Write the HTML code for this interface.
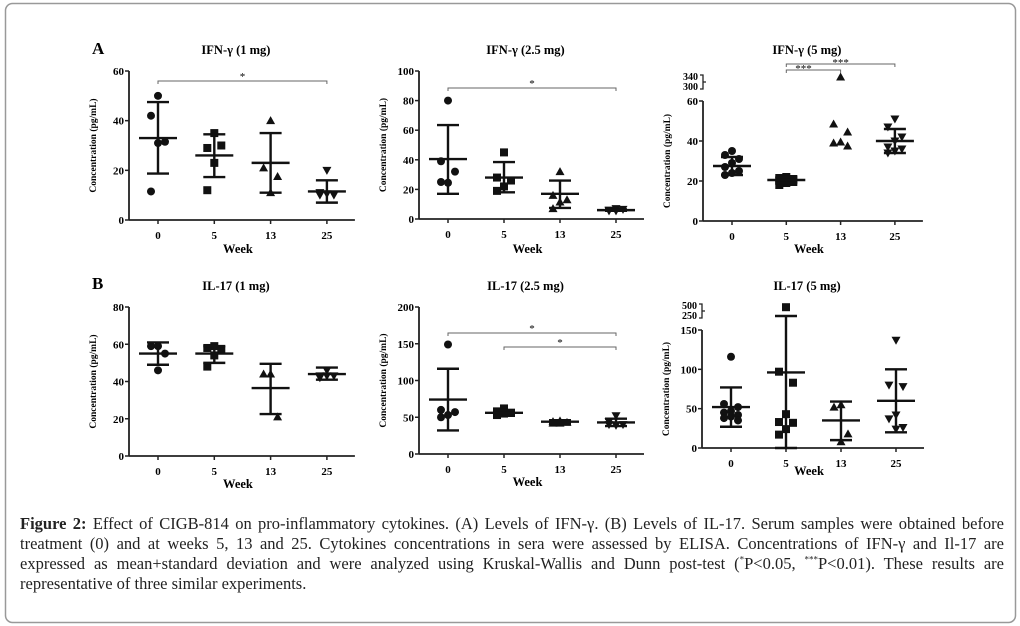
<!DOCTYPE html>
<html><head><meta charset="utf-8">
<style>
html,body{margin:0;padding:0;background:#fff;width:1020px;height:626px;overflow:hidden}
#cap{position:absolute;left:20px;top:514px;width:984px;font-family:"Liberation Serif",serif;font-size:16.5px;line-height:20px;color:#222}
#cap div{text-align:justify;text-align-last:justify;white-space:nowrap}
#cap div.last{text-align-last:left}
</style></head>
<body>
<svg id="fig" width="1020" height="626" style="position:absolute;left:0;top:0" font-family="Liberation Serif, serif">
<rect x="5.5" y="3.5" width="1010" height="619" rx="7" fill="none" stroke="#999" stroke-width="1.5"/>
<text x="92" y="54" font-size="17" font-weight="bold">A</text>
<text x="92" y="289" font-size="17" font-weight="bold">B</text>
</svg>
<div id="cap">
<div style="white-space:normal"><b>Figure 2:</b> Effect of CIGB-814 on pro-inflammatory cytokines. (A) Levels of IFN-γ. (B) Levels of IL-17. Serum samples were obtained before</div>
<div style="white-space:normal">treatment (0) and at weeks 5, 13 and 25. Cytokines concentrations in sera were assessed by ELISA. Concentrations of IFN-γ and Il-17 are</div>
<div style="white-space:normal">expressed as mean+standard deviation and were analyzed using Kruskal-Wallis and Dunn post-test (<sup style="font-size:9px;line-height:0">*</sup>P&lt;0.05, <sup style="font-size:9px;line-height:0">***</sup>P&lt;0.01). These results are</div>
<div class="last">representative of three similar experiments.</div>
</div>
<script>
const weeks=['0','5','13','25'];
// IFN-gamma 1 mg
const ifn1Values=[[50,42,31.5,31,11.5],[35,29,30,23,12],[40,21,17.5,11],[20,10,10,10.5,11]];
const ifn1Mean=[33,26,23,11.5];
const ifn1Upper=[47.5,34.5,35,16];
const ifn1Lower=[18.7,17.3,11,7];
const ifn1Ticks=[0,20,40,60];
// IFN-gamma 2.5 mg
const ifn25Values=[[80,39,32,24.5,25],[45,28,26,22,19],[32,16,13,11.5,7],[5.5,6,6.5,7,5.5]];
const ifn25Mean=[40.5,28,17,6];
const ifn25Upper=[63.5,38.5,26,6.5];
const ifn25Lower=[17,18,7.5,5.5];
const ifn25Ticks=[0,20,40,60,80,100];
// IFN-gamma 5 mg
const ifn5Values=[[35,33,31,29,27,25,24,23],[22,21.5,21,20.5,20,19.5,19,18],[340,48.5,44.5,39.5,39,37.5],[51,47,42,40,37,36,35,34]];
const ifn5Mean=[27.5,20.5,null,40];
const ifn5Upper=[32,22,null,46];
const ifn5Lower=[23,19,null,34];
const ifn5Ticks=[0,20,40,60];
const ifn5BreakTicks=[300,340];
// IL-17 1 mg
const il1Values=[[59,59,55,46],[59,58,57,54,48],[44,44,21],[46,43,43,43,42]];
const il1Mean=[55,55,36.5,44];
const il1Upper=[61,59,49.5,47.5];
const il1Lower=[49,50,22.5,41];
const il1Ticks=[0,20,40,60,80];
// IL-17 2.5 mg
const il25Values=[[149,60,57,53,50],[62,58,56,55,53],[45,44,43,42,42],[52,44,40,39,40]];
const il25Mean=[74,56,44,43];
const il25Upper=[116,60,46,48];
const il25Lower=[32,52,41,38];
const il25Ticks=[0,50,100,150,200];
// IL-17 5 mg
const il5Values=[[116,56,52,47,45,42,40,38,35],[470,97,83,43,33,32,24,17],[55,52,18,8],[137,80,78,42,37,26,24]];
const il5Mean=[52,96,35,60];
const il5Upper=[77,250,59,100];
const il5Lower=[27,0,10,20];
const il5Ticks=[0,50,100,150];
const il5BreakTicks=[250,500];

const NS='http://www.w3.org/2000/svg';
const svg=document.getElementById('fig');
function mk(tag,attrs,parent){const e=document.createElementNS(NS,tag);for(const k in attrs)e.setAttribute(k,attrs[k]);(parent||svg).appendChild(e);return e;}

const panels=[
 {id:'ifn-1mg',title:'IFN-γ (1 mg)',ax:129,top:71,bot:220,max:60,sp:56.3,vals:ifn1Values,mean:ifn1Mean,up:ifn1Upper,lo:ifn1Lower,ticks:ifn1Ticks,tY:50,weekY:253,sig:[[0,3,81,'*']]},
 {id:'ifn-2-5mg',title:'IFN-γ (2.5 mg)',ax:419,top:71,bot:219,max:100,sp:56,vals:ifn25Values,mean:ifn25Mean,up:ifn25Upper,lo:ifn25Lower,ticks:ifn25Ticks,tY:50,weekY:253,sig:[[0,3,88,'*']]},
 {id:'ifn-5mg',title:'IFN-γ (5 mg)',ax:703,top:101,bot:221,max:60,sp:54.3,vals:ifn5Values,mean:ifn5Mean,up:ifn5Upper,lo:ifn5Lower,ticks:ifn5Ticks,brk:{ticks:ifn5BreakTicks,y0:87,y1:77},tY:50,weekY:253,sig:[[1,2,70,'***'],[1,3,64,'***']]},
 {id:'il17-1mg',title:'IL-17 (1 mg)',ax:129,top:307,bot:456,max:80,sp:56.3,vals:il1Values,mean:il1Mean,up:il1Upper,lo:il1Lower,ticks:il1Ticks,tY:286,weekY:488,sig:[]},
 {id:'il17-2-5mg',title:'IL-17 (2.5 mg)',ax:419,top:307,bot:454,max:200,sp:56,vals:il25Values,mean:il25Mean,up:il25Upper,lo:il25Lower,ticks:il25Ticks,tY:286,weekY:486,sig:[[0,3,333,'*'],[1,3,347,'*']]},
 {id:'il17-5mg',title:'IL-17 (5 mg)',ax:702,top:330,bot:448,max:150,sp:55,vals:il5Values,mean:il5Mean,up:il5Upper,lo:il5Lower,ticks:il5Ticks,brk:{ticks:il5BreakTicks,y0:316,y1:306},tY:286,weekY:475,sig:[]}
];
const markers=['circle','square','tri','dtri'];
function marker(g,type,x,y){
  let m;
  if(type==='circle') m=mk('circle',{cx:x,cy:y,r:4,fill:'#111'},g);
  else if(type==='square') m=mk('rect',{x:x-4,y:y-4,width:8,height:8,fill:'#111'},g);
  else if(type==='tri') m=mk('polygon',{points:`${x},${y-4.5} ${x-4.5},${y+3.5} ${x+4.5},${y+3.5}`,fill:'#111'},g);
  else m=mk('polygon',{points:`${x},${y+4.5} ${x-4.5},${y-3.5} ${x+4.5},${y-3.5}`,fill:'#111'},g);
  
  
}
panels.forEach(p=>{
  const g=mk('g',{});
  
  
  const yS=v=>{
    if(v<=p.max||!p.brk) return p.bot-(p.bot-p.top)*v/p.max;
    const b=p.brk,a=b.ticks[0],c=b.ticks[b.ticks.length-1];
    return b.y0+(b.y1-b.y0)*(v-a)/(c-a);
  };
  const xS=i=>p.ax+29+i*p.sp;
  const xEnd=p.ax+29+3*p.sp+28;
  const cx=(p.ax+xEnd)/2;
  const t=mk('text',{x:cx-6,y:p.tY+4,'font-size':12.5,'font-weight':'bold','text-anchor':'middle'},g);t.textContent=p.title;
  
  const ya=mk('line',{x1:p.ax,y1:p.top,x2:p.ax,y2:p.bot,stroke:'#222','stroke-width':1.8},g);
  
  const xa=mk('line',{x1:p.ax,y1:p.bot,x2:xEnd,y2:p.bot,stroke:'#222','stroke-width':1.8},g);
  
  p.ticks.forEach(v=>{
    const y=yS(v);
    mk('line',{x1:p.ax-4,y1:y,x2:p.ax,y2:y,stroke:'#222','stroke-width':1.5},g);
    const l=mk('text',{x:p.ax-5,y:y+4,'font-size':11,'font-weight':'bold','text-anchor':'end'},g);l.textContent=v;
    
  });
  if(p.brk){
    const b=p.brk;
    mk('path',{d:`M${p.ax-3} ${b.y1-2} L${p.ax} ${b.y1-2} L${p.ax} ${b.y0+2} L${p.ax-3} ${b.y0+2} M${p.ax} ${(b.y0+b.y1)/2} l3 0`,fill:'none',stroke:'#222','stroke-width':1.3},g);
    b.ticks.forEach(v=>{
      const l=mk('text',{x:p.ax-5,y:yS(v)+3,'font-size':10,'font-weight':'bold','text-anchor':'end'},g);l.textContent=v;
      
    });
  }
  weeks.forEach((w,i)=>{
    mk('line',{x1:xS(i),y1:p.bot,x2:xS(i),y2:p.bot+4,stroke:'#222','stroke-width':1.5},g);
    const l=mk('text',{x:xS(i),y:p.bot+19,'font-size':11,'font-weight':'bold','text-anchor':'middle'},g);l.textContent=w;
    
  });
  const wk=mk('text',{x:cx-4,y:p.weekY,'font-size':12.5,'font-weight':'bold','text-anchor':'middle'},g);wk.textContent='Week';
  
  const ym=(p.top+p.bot)/2;
  const yt=mk('text',{x:p.ax-33,y:ym,'font-size':9.5,'font-weight':'bold','text-anchor':'middle',transform:`rotate(-90 ${p.ax-33} ${ym})`},g);yt.textContent='Concentration (pg/mL)';
  
  p.vals.forEach((arr,i)=>{
    const offs=[0,-7,7,0,-7,7,0,-7,7];
    arr.forEach((v,j)=>marker(g,markers[i],xS(i)+offs[j%offs.length],yS(v)));
    if(p.mean[i]!=null){
      const x=xS(i);
      const e=mk('path',{d:`M${x-19} ${yS(p.mean[i])} h38 M${x} ${yS(p.up[i])} V${yS(p.lo[i])} M${x-11} ${yS(p.up[i])} h22 M${x-11} ${yS(p.lo[i])} h22`,stroke:'#111','stroke-width':2.4,fill:'none'},g);
      
    }
  });
  p.sig.forEach((s,k)=>{
    const x1=xS(s[0]),x2=xS(s[1]),y=s[2];
    const b=mk('path',{d:`M${x1} ${y+3} V${y} H${x2} V${y+3}`,stroke:'#666','stroke-width':1,fill:'none'},g);
    
    const lx=s[3]==='***'&&k===0?(x1+x2)/2-10:(x1+x2)/2;
    const st=mk('text',{x:lx,y:y+(s[3]==='***'?2:-1),'font-size':11,'text-anchor':'middle'},g);st.textContent=s[3];
    
  });
});
</script>
</body></html>
